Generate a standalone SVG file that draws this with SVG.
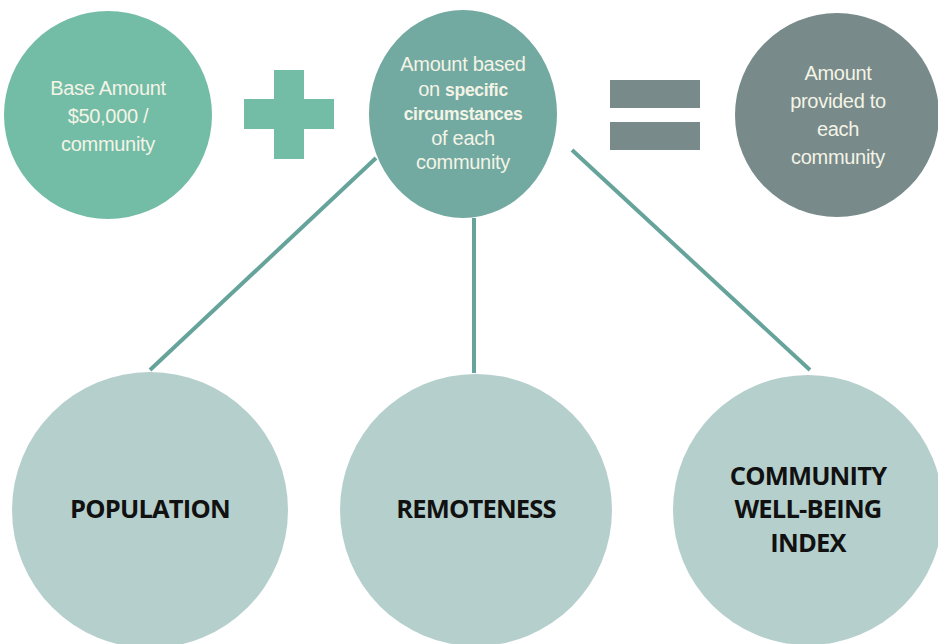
<svg xmlns="http://www.w3.org/2000/svg" width="938" height="644" viewBox="0 0 938 644">
<style>
.top{font-family:"Liberation Sans","Open Sans",sans-serif;font-size:20px;fill:#f4f4e6;text-anchor:middle;letter-spacing:-0.3px}
.b{font-weight:bold;font-size:17.5px}
.bot{font-family:"Open Sans","Liberation Sans",sans-serif;font-size:25.5px;font-weight:bold;fill:#111;text-anchor:middle;letter-spacing:-0.8px}
.conn{stroke:#66a39b;stroke-width:4;fill:none}
.leaf{fill:#b5cfcc}
</style>
<rect width="938" height="644" fill="#fff"/>
<g id="connectors">
<line class="conn" x1="376" y1="158" x2="150" y2="370"/>
<line class="conn" x1="474" y1="218" x2="474" y2="373"/>
<line class="conn" x1="572" y1="150" x2="810" y2="370"/>
</g>
<g id="base">
<circle cx="108" cy="115" r="104" fill="#73bca6"/>
<text class="top" x="108" y="95">Base Amount</text>
<text class="top" x="108" y="123">$50,000 /</text>
<text class="top" x="108" y="151">community</text>
</g>
<g id="plus" fill="#73bca6">
<rect x="274" y="70" width="30" height="89"/>
<rect x="244" y="99" width="90" height="30"/>
</g>
<g id="specific">
<ellipse cx="463" cy="114" rx="94" ry="104" fill="#72a9a1"/>
<text class="top" x="463" y="71">Amount based</text>
<text class="top" x="463" y="95.5">on <tspan class="b">specific</tspan></text>
<text class="top b" x="463" y="120">circumstances</text>
<text class="top" x="463" y="144.5">of each</text>
<text class="top" x="463" y="169">community</text>
</g>
<g id="equals" fill="#788a8a">
<rect x="610" y="80" width="90" height="28"/>
<rect x="610" y="122" width="90" height="28"/>
</g>
<g id="total">
<circle cx="837" cy="115" r="102" fill="#788a8a"/>
<text class="top" x="838" y="80">Amount</text>
<text class="top" x="838" y="108">provided to</text>
<text class="top" x="838" y="136">each</text>
<text class="top" x="838" y="164">community</text>
</g>
<g id="population">
<circle class="leaf" cx="150" cy="510" r="138"/>
<text class="bot" x="150" y="518">POPULATION</text>
</g>
<g id="remoteness">
<circle class="leaf" cx="476" cy="510" r="136"/>
<text class="bot" x="476" y="518">REMOTENESS</text>
</g>
<g id="cwb">
<circle class="leaf" cx="808" cy="510" r="135"/>
<text class="bot" x="808" y="485">COMMUNITY</text>
<text class="bot" x="808" y="518">WELL-BEING</text>
<text class="bot" x="808" y="552">INDEX</text>
</g>
</svg>
